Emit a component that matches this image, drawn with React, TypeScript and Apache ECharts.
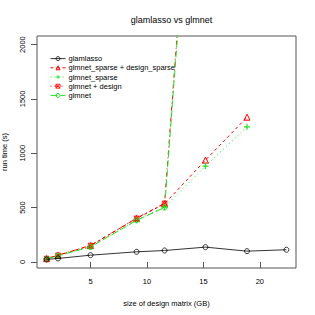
import React, { useEffect, useRef } from "react";
import * as echarts from "echarts";

const xSize = [1.11, 2.12, 5.0, 9.08, 11.56, 15.18, 18.86, 22.35];
const glamlasso = [23, 32, 62, 93, 105, 136, 99, 112];
const glmnetSparseDesignSparse = [30, 60, 150, 400, 535, 937, 1332];
const glmnetSparse = [25, 55, 140, 385, 505, 882, 1243];
const glmnetDesign = [32, 62, 152, 402, 540, 5600];
const glmnet = [28, 57, 138, 382, 500, 5500];
const xTicks = [5, 10, 15, 20];
const yTicks = [0, 500, 1000, 1500, 2000];
const seriesNames = ["glamlasso", "glmnet_sparse + design_sparse", "glmnet_sparse", "glmnet + design", "glmnet"];

const RED = "#FF0000";
const GREEN = "#22E022";
const FONT = "Liberation Sans, Arial, sans-serif";
const NOFILL = "rgba(0,0,0,0)";

const PLUS = "path://M4,0h2v4h4v2h-4v4h-2v-4h-4v-2h4z";
const BOXX = "path://M0,0L10,0L10,10L0,10Z M0,0L10,10 M10,0L0,10";

function pairs(vals: number[]) {
  return vals.map((v, i) => [xSize[i], v]);
}

const legendStyles = [
  { icon: "circle", itemStyle: { color: NOFILL, borderColor: "#000", borderWidth: 0.8 }, lineStyle: { color: "#000", width: 0.8, type: "solid" } },
  { icon: "triangle", itemStyle: { color: NOFILL, borderColor: RED, borderWidth: 1 }, lineStyle: { color: RED, width: 1, type: [3, 3] } },
  { icon: PLUS, itemStyle: { color: GREEN, borderWidth: 0 }, lineStyle: { color: GREEN, width: 1, type: [1, 3] } },
  { icon: BOXX, itemStyle: { color: NOFILL, borderColor: RED, borderWidth: 0.8 }, lineStyle: { color: RED, width: 1, type: [1, 3, 4, 3] } },
  { icon: "circle", itemStyle: { color: NOFILL, borderColor: GREEN, borderWidth: 1 }, lineStyle: { color: GREEN, width: 1, type: [7, 3] } },
];

export default function App() {
  const ref = useRef<HTMLDivElement>(null);
  useEffect(() => {
    if (!ref.current) return;
    const chart = echarts.init(ref.current, null, { renderer: "svg" });
    chart.setOption({
      animation: false,
      backgroundColor: "#ffffff",
      title: {
        text: "glamlasso vs glmnet",
        left: 166.5,
        textAlign: "center",
        top: 10,
        textStyle: { fontSize: 9, fontWeight: "normal", color: "#000", fontFamily: FONT },
      },
      grid: {
        left: 37,
        right: 19,
        top: 36,
        bottom: 47,
        containLabel: false,
        outerBoundsMode: "none",
        show: true,
        borderColor: "#555",
        borderWidth: 1,
        backgroundColor: "transparent",
      },
      legend: {
        orient: "vertical",
        left: 45,
        top: 49,
        itemWidth: 15,
        itemHeight: 5,
        itemGap: 0,
        textStyle: { fontSize: 7.5, color: "#000", fontFamily: FONT, lineHeight: 9.2, padding: [0, 0, 0, -2] },
        data: seriesNames.map((n, i) => ({
          name: n,
          itemStyle: legendStyles[i].itemStyle,
          lineStyle: legendStyles[i].lineStyle,
        })),
      },
      xAxis: {
        type: "value",
        min: 0.26,
        max: 23.2,
        name: "size of design matrix (GB)",
        nameLocation: "middle",
        nameGap: 31,
        nameTextStyle: { fontSize: 7.5, color: "#000", fontFamily: FONT },
        axisLine: { show: false },
        axisTick: { show: true, length: 6, customValues: xTicks, lineStyle: { color: "#555" } },
        axisLabel: { customValues: xTicks, fontSize: 7.5, color: "#000", fontFamily: FONT, margin: 9 },
        splitLine: { show: false },
      },
      yAxis: {
        type: "value",
        min: -56,
        max: 2079,
        name: "run time (s)",
        nameLocation: "middle",
        nameGap: 29,
        nameTextStyle: { fontSize: 7.5, color: "#000", fontFamily: FONT },
        axisLine: { show: false },
        axisTick: { show: true, length: 6, customValues: yTicks, lineStyle: { color: "#555" } },
        axisLabel: {
          customValues: yTicks,
          rotate: 90,
          fontSize: 7.5,
          color: "#000",
          fontFamily: FONT,
          margin: 11,
          formatter: (v: number) => String(v),
        },
        splitLine: { show: false },
      },
      series: [
        {
          name: seriesNames[0],
          type: "line",
          data: pairs(glamlasso),
          symbol: "circle",
          symbolSize: 5,
          showAllSymbol: true,
          itemStyle: { color: NOFILL, borderColor: "#000", borderWidth: 0.8 },
          lineStyle: { color: "#000", width: 0.8, type: "solid" },
          z: 5,
        },
        {
          name: seriesNames[1],
          type: "line",
          data: pairs(glmnetSparseDesignSparse),
          symbol: "triangle",
          symbolSize: 6,
          itemStyle: { color: NOFILL, borderColor: RED, borderWidth: 1 },
          lineStyle: { color: RED, width: 1, type: [3, 3] },
        },
        {
          name: seriesNames[2],
          type: "line",
          data: pairs(glmnetSparse),
          symbol: PLUS,
          symbolSize: 6,
          itemStyle: { color: GREEN },
          lineStyle: { color: GREEN, width: 1, type: [1, 3] },
        },
        {
          name: seriesNames[3],
          type: "line",
          data: pairs(glmnetDesign),
          symbol: BOXX,
          symbolSize: 4.5,
          itemStyle: { color: NOFILL, borderColor: RED, borderWidth: 0.8 },
          lineStyle: { color: RED, width: 1, type: [1, 3, 4, 3] },
          clip: true,
        },
        {
          name: seriesNames[4],
          type: "line",
          data: pairs(glmnet),
          symbol: "circle",
          symbolSize: 5,
          itemStyle: { color: NOFILL, borderColor: GREEN, borderWidth: 1 },
          lineStyle: { color: GREEN, width: 1, type: [7, 3] },
          clip: true,
        },
      ],
    });
    return () => chart.dispose();
  }, []);
  return <div ref={ref} style={{ width: 315, height: 315, position: "absolute", left: 0, top: 0 }} />;
}
